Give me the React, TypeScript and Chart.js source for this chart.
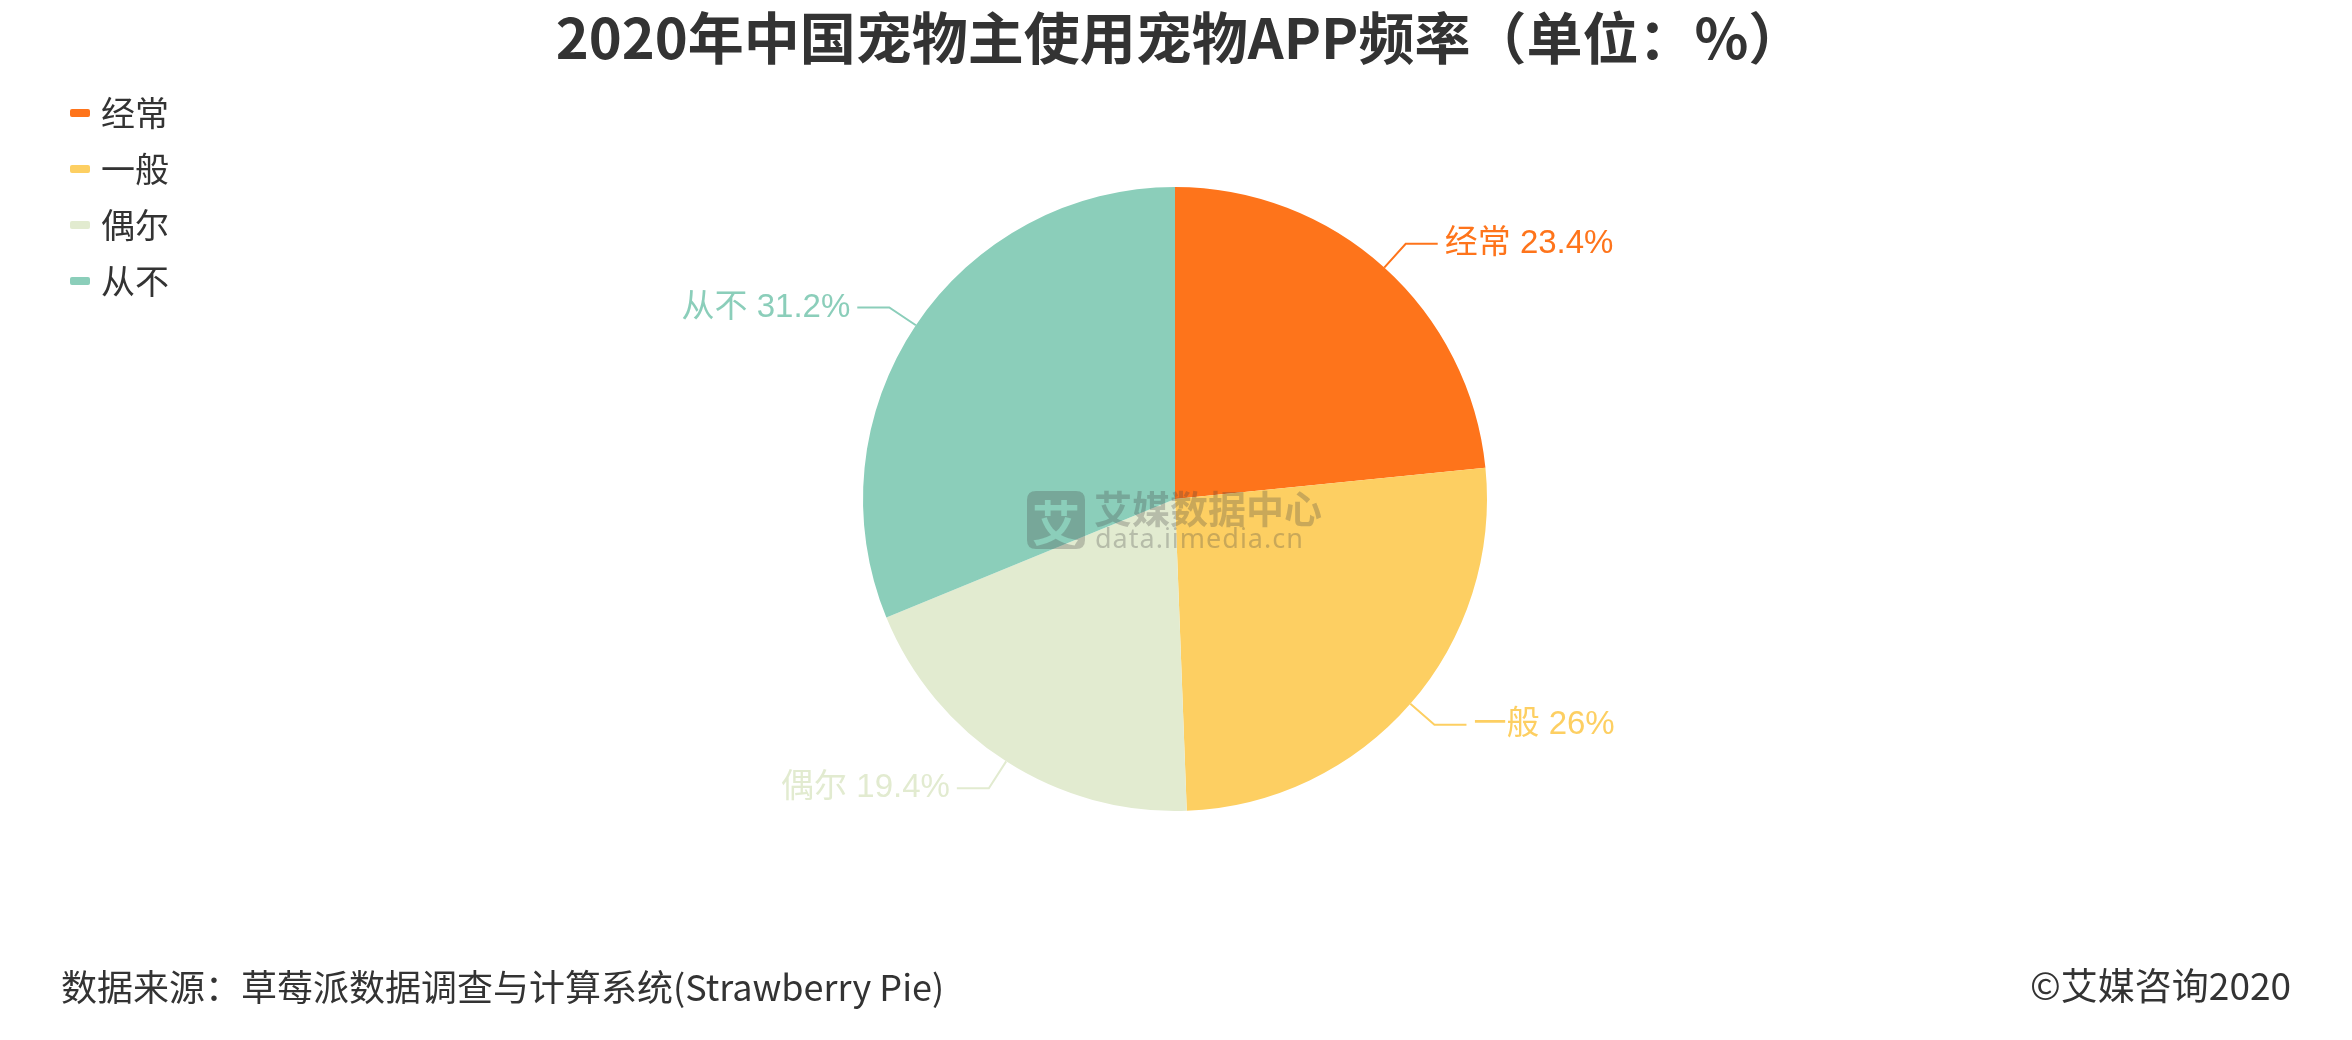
import React, { useEffect, useRef } from 'react';
import { Chart, registerables } from 'chart.js';

Chart.register(...registerables);

// ---- data ----
const categories = ['经常', '一般', '偶尔', '从不'];
const shares = [23.4, 26, 19.4, 31.2];
const colors = ['#FE741B', '#FDCF62', '#E2EBD0', '#8BCEBA'];
const titleText = '2020年中国宠物主使用宠物APP频率（单位：%）';
const sourceText = '数据来源：草莓派数据调查与计算系统(Strawberry Pie)';
const copyrightText = '©艾媒咨询2020';
const watermarkTitle = '艾媒数据中心';
const watermarkUrl = 'data.iimedia.cn';

const CJK = '"Noto Sans CJK SC", "Noto Sans", sans-serif';
const LABEL_FONT = '"Liberation Sans", "Noto Sans CJK SC", sans-serif';

function roundRect(ctx: CanvasRenderingContext2D, x: number, y: number, w: number, h: number, r: number) {
  ctx.beginPath();
  ctx.moveTo(x + r, y);
  ctx.lineTo(x + w - r, y);
  ctx.quadraticCurveTo(x + w, y, x + w, y + r);
  ctx.lineTo(x + w, y + h - r);
  ctx.quadraticCurveTo(x + w, y + h, x + w - r, y + h);
  ctx.lineTo(x + r, y + h);
  ctx.quadraticCurveTo(x, y + h, x, y + h - r);
  ctx.lineTo(x, y + r);
  ctx.quadraticCurveTo(x, y, x + r, y);
  ctx.closePath();
}

const decorPlugin = {
  id: 'decor',
  afterDatasetsDraw(chart: any) {
    const ctx: CanvasRenderingContext2D = chart.ctx;
    const meta = chart.getDatasetMeta(0);
    ctx.save();
    // outside labels with leader lines
    meta.data.forEach((arc: any, i: number) => {
      const { x, y, startAngle, endAngle, outerRadius } = arc.getProps(
        ['x', 'y', 'startAngle', 'endAngle', 'outerRadius'],
        true
      );
      const mid = (startAngle + endAngle) / 2;
      const c = Math.cos(mid);
      const s = Math.sin(mid);
      const p0x = x + outerRadius * c;
      const p0y = y + outerRadius * s;
      const len1 = 32;
      const p1x = p0x + len1 * c;
      const p1y = p0y + len1 * s;
      const right = c >= 0;
      const p2x = p1x + (right ? 32 : -32);
      ctx.strokeStyle = colors[i];
      ctx.lineWidth = 2;
      ctx.beginPath();
      ctx.moveTo(p0x, p0y);
      ctx.lineTo(p1x, p1y);
      ctx.lineTo(p2x, p1y);
      ctx.stroke();
      ctx.fillStyle = colors[i];
      ctx.font = `33px ${LABEL_FONT}`;
      ctx.textBaseline = 'middle';
      ctx.textAlign = right ? 'left' : 'right';
      ctx.fillText(`${categories[i]} ${shares[i]}%`, p2x + (right ? 7 : -7), p1y);
    });

    // watermark
    const wmColor = 'rgba(70,70,70,0.28)';
    const off = document.createElement('canvas');
    off.width = 60;
    off.height = 60;
    const octx = off.getContext('2d') as CanvasRenderingContext2D;
    octx.fillStyle = wmColor;
    roundRect(octx, 1, 1, 58, 58, 9);
    octx.fill();
    octx.globalCompositeOperation = 'destination-out';
    octx.fillStyle = '#000';
    octx.font = `bold 48px ${CJK}`;
    octx.textAlign = 'center';
    octx.textBaseline = 'middle';
    octx.fillText('艾', 30, 33);
    ctx.drawImage(off, 1026, 490);

    ctx.fillStyle = wmColor;
    ctx.textAlign = 'left';
    ctx.textBaseline = 'middle';
    ctx.font = `bold 38px ${CJK}`;
    ctx.fillText(watermarkTitle, 1094, 509);
    ctx.font = `27px "Noto Sans", sans-serif`;
    (ctx as any).letterSpacing = '1px';
    ctx.fillText(watermarkUrl, 1095, 540);
    (ctx as any).letterSpacing = '0px';
    ctx.restore();
  },
  afterDraw(chart: any) {
    const ctx: CanvasRenderingContext2D = chart.ctx;
    ctx.save();
    // title
    ctx.fillStyle = '#333333';
    ctx.font = `bold 56px ${CJK}`;
    ctx.textAlign = 'center';
    ctx.textBaseline = 'middle';
    ctx.fillText(titleText, 1180, 38);

    // legend
    const rows = [113, 169, 225, 281];
    categories.forEach((cat, i) => {
      ctx.fillStyle = colors[i];
      roundRect(ctx, 70, rows[i] - 4, 20, 8, 2);
      ctx.fill();
      ctx.fillStyle = '#333333';
      ctx.font = `34px ${CJK}`;
      ctx.textAlign = 'left';
      ctx.textBaseline = 'middle';
      ctx.fillText(cat, 101, rows[i]);
    });

    // footer
    ctx.fillStyle = '#333333';
    ctx.font = `36px ${CJK}`;
    ctx.textBaseline = 'middle';
    ctx.textAlign = 'left';
    ctx.fillText(sourceText, 61, 987);
    ctx.font = `37px ${CJK}`;
    ctx.textAlign = 'right';
    ctx.fillText(copyrightText, 2291, 986);
    ctx.restore();
  },
};

export default function App() {
  const ref = useRef<HTMLCanvasElement | null>(null);
  useEffect(() => {
    if (!ref.current) return;
    const chart = new Chart(ref.current, {
      type: 'pie',
      data: {
        labels: categories,
        datasets: [
          {
            data: shares,
            backgroundColor: colors,
            borderWidth: 0,
            hoverOffset: 0,
            offset: 0,
          },
        ],
      },
      options: {
        animation: false,
        responsive: false,
        events: [],
        layout: { padding: { top: 187, bottom: 229, left: 475, right: 477 } },
        plugins: {
          legend: { display: false },
          tooltip: { enabled: false },
          title: { display: false },
        },
      },
      plugins: [decorPlugin],
    });
    return () => chart.destroy();
  }, []);
  return (
    <div style={{ position: 'fixed', left: 0, top: 0, width: 2352, height: 1040, background: '#fff' }}>
      <canvas ref={ref} width={2352} height={1040} style={{ display: 'block', width: 2352, height: 1040 }} />
    </div>
  );
}
